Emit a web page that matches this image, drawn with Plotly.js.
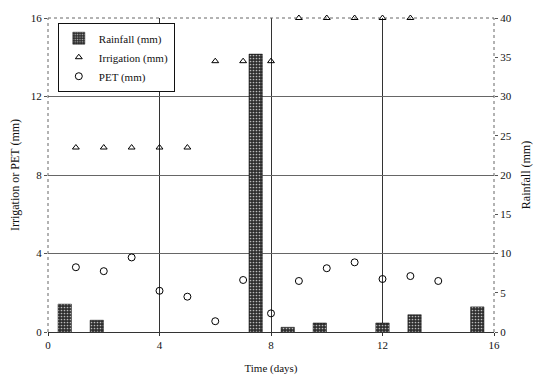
<!DOCTYPE html>
<html>
<head>
<meta charset="utf-8">
<script src="https://cdn.plot.ly/plotly-3.0.1.min.js"></script>
<style>html,body{margin:0;padding:0;background:#fff;}#chart{width:536px;height:381px;}</style>
</head>
<body>
<div id="chart"></div>
<script>
// Rainfall bars (right axis, mm)
const rainDays = [0.6, 1.75, 7.45, 8.6, 9.75, 12.0, 13.15, 15.4];
const rainMm   = [3.55, 1.5, 35.4, 0.6, 1.15, 1.15, 2.2, 3.2];
// Irrigation (left axis, mm)
const irrDays = [1, 2, 3, 4, 5, 6, 7, 8, 9, 10, 11, 12, 13];
const irrMm   = [9.4, 9.4, 9.4, 9.4, 9.4, 13.8, 13.8, 13.8, 16, 16, 16, 16, 16];
// PET (left axis, mm)
const petDays = [1, 2, 3, 4, 5, 6, 7, 8, 9, 10, 11, 12, 13, 14];
const petMm   = [3.3, 3.1, 3.8, 2.1, 1.8, 0.55, 2.65, 0.95, 2.6, 3.25, 3.55, 2.7, 2.85, 2.6];

const FONT = 'Liberation Serif, Times New Roman, serif';

const traces = [
  {
    type: 'bar', name: 'Rainfall (mm)', x: rainDays, y: rainMm,
    yaxis: 'y2', width: 0.48, legendgroup: 'a',
    marker: {color: '#3a3a3a', line: {color: '#111', width: 0.5},
             pattern: {shape: '.', fgcolor: '#bbb', bgcolor: '#2e2e2e', size: 3, solidity: 0.25}}
  },
  {
    type: 'scatter', mode: 'markers', name: 'Irrigation (mm)', x: irrDays, y: irrMm,
    legendgroup: 'b', cliponaxis: false,
    marker: {symbol: 'triangle-up-open', size: 6, color: '#000', line: {width: 1}}
  },
  {
    type: 'scatter', mode: 'markers', name: 'PET (mm)', x: petDays, y: petMm,
    legendgroup: 'c', cliponaxis: false,
    marker: {symbol: 'circle-open', size: 7, color: '#000', line: {width: 1}}
  }
];

const layout = {
  width: 536, height: 381,
  margin: {l: 48, r: 42, t: 18, b: 49},
  paper_bgcolor: '#fff', plot_bgcolor: '#fff',
  font: {family: FONT, size: 11, color: '#111'},
  showlegend: true,
  legend: {
    x: 0.022, y: 0.985, xanchor: 'left', yanchor: 'top',
    bgcolor: '#fff', bordercolor: '#111', borderwidth: 1,
    font: {family: FONT, size: 11, color: '#111'},
    tracegroupgap: 4, traceorder: 'normal'
  },
  bargap: 0,
  xaxis: {
    range: [0, 16], dtick: 4, tick0: 0,
    showgrid: true, gridcolor: '#333', gridwidth: 1,
    zeroline: false, showline: true, linecolor: '#333', linewidth: 1,
    ticks: 'outside', ticklen: 3, tickcolor: '#333',
    tickfont: {family: FONT, size: 11},
    title: {text: 'Time (days)', font: {family: FONT, size: 11}, standoff: 14}
  },
  yaxis: {
    range: [0, 16], dtick: 4, tick0: 0,
    showgrid: true, gridcolor: '#666', gridwidth: 1,
    zeroline: false, showline: false,
    ticks: 'outside', ticklen: 3, tickcolor: '#555',
    tickfont: {family: FONT, size: 11},
    title: {text: 'Irrigation or PET (mm)', font: {family: FONT, size: 12}, standoff: 8}
  },
  yaxis2: {
    range: [0, 40], dtick: 5, tick0: 0, overlaying: 'y', side: 'right',
    showgrid: false, zeroline: false, showline: false,
    ticks: 'outside', ticklen: 3, tickcolor: '#555',
    tickfont: {family: FONT, size: 11},
    title: {text: 'Rainfall (mm)', font: {family: FONT, size: 12}, standoff: 10}
  },
  shapes: [
    {type: 'line', xref: 'paper', yref: 'paper', x0: 0, x1: 1, y0: 1, y1: 1, line: {color: '#666', width: 1, dash: 'dot'}},
    {type: 'line', xref: 'paper', yref: 'paper', x0: 0, x1: 0, y0: 0, y1: 1, line: {color: '#666', width: 1, dash: 'dot'}},
    {type: 'line', xref: 'paper', yref: 'paper', x0: 1, x1: 1, y0: 0, y1: 1, line: {color: '#666', width: 1, dash: 'dot'}}
  ]
};

Plotly.newPlot('chart', traces, layout, {displayModeBar: false, staticPlot: true});
</script>
</body>
</html>
